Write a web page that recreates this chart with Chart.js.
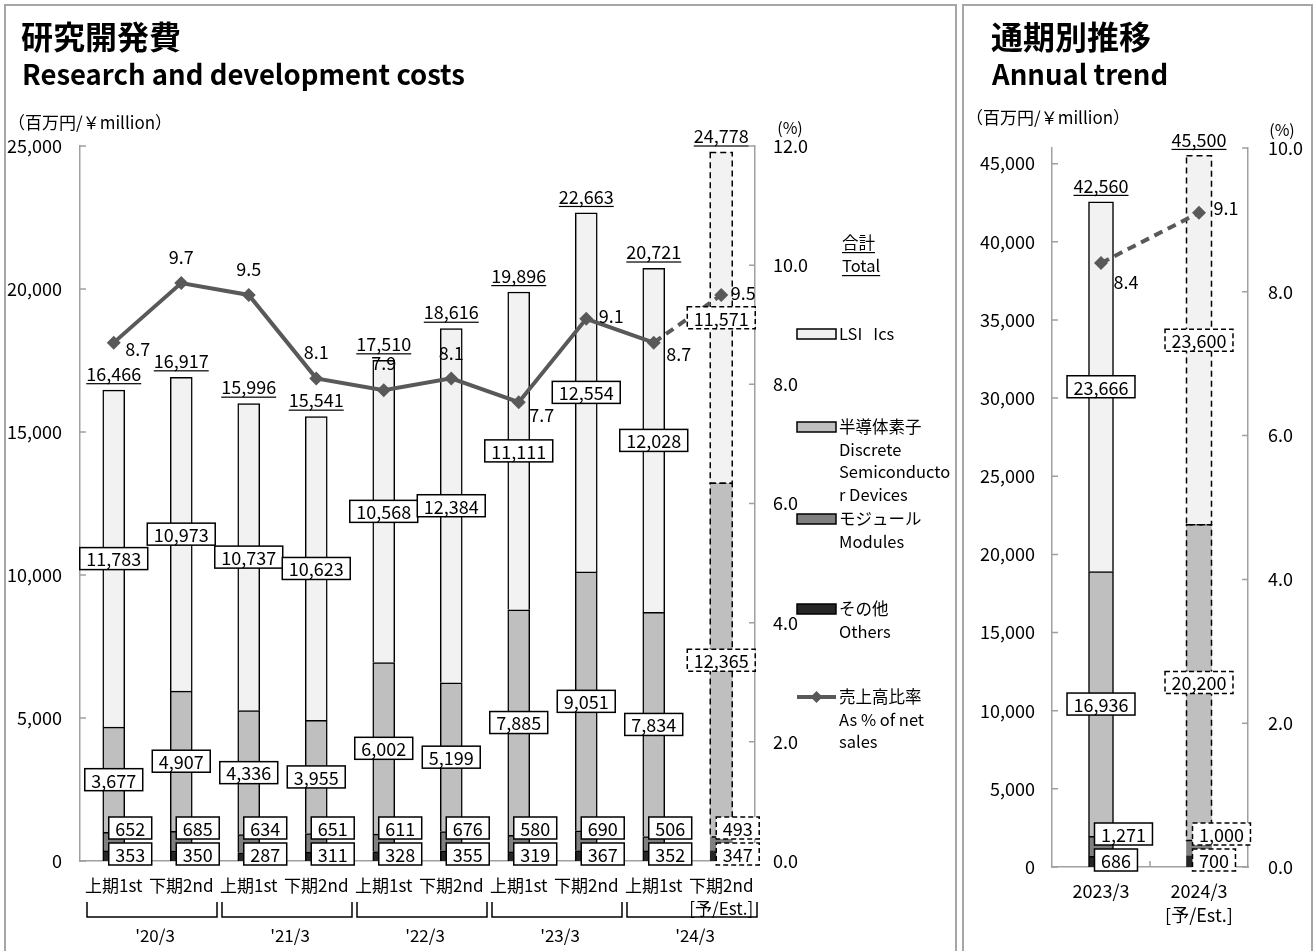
<!DOCTYPE html>
<html>
<head>
<meta charset="utf-8">
<script src="https://cdn.jsdelivr.net/npm/chart.js@4.4.1/dist/chart.umd.min.js"></script>
<style>
  body { margin: 0; width: 1316px; height: 951px; overflow: hidden; position: relative; background: #fff; }
  .panel { position: absolute; top: 4px; height: 990px; border: 2px solid #a6a6a6; box-sizing: border-box; }
  canvas { position: absolute; top: 0; }
</style>
</head>
<body>
<div class="panel" style="left:4px; width:953px;"></div>
<div class="panel" style="left:962px; width:351px;"></div>
<canvas id="halfChart" width="960" height="951" style="left:0"></canvas>
<canvas id="annualChart" width="356" height="951" style="left:960px"></canvas>
<script>
// 半期別データ (百万円)
var halfLabels = ["上期1st", "下期2nd", "上期1st", "下期2nd", "上期1st", "下期2nd", "上期1st", "下期2nd", "上期1st", ["下期2nd", "[予/Est.]"]];
var halfYears = ["'20/3", "'21/3", "'22/3", "'23/3", "'24/3"];
var halfLsi = [11783, 10973, 10737, 10623, 10568, 12384, 11111, 12554, 12028, 11571];
var halfDiscrete = [3677, 4907, 4336, 3955, 6002, 5199, 7885, 9051, 7834, 12365];
var halfModules = [652, 685, 634, 651, 611, 676, 580, 690, 506, 493];
var halfOthers = [353, 350, 287, 311, 328, 355, 319, 367, 352, 347];
var halfTotal = [16466, 16917, 15996, 15541, 17510, 18616, 19896, 22663, 20721, 24778];
var halfRatio = [8.7, 9.7, 9.5, 8.1, 7.9, 8.1, 7.7, 9.1, 8.7, 9.5];
var halfYTicks = [0, 5000, 10000, 15000, 20000, 25000];
var halfRatioTicks = [0, 2, 4, 6, 8, 10, 12];

// 通期データ
var annualLabels = ["2023/3", ["2024/3", "[予/Est.]"]];
var annualLsi = [23666, 23600];
var annualDiscrete = [16936, 20200];
var annualModules = [1271, 1000];
var annualOthers = [686, 700];
var annualTotal = [42560, 45500];
var annualRatio = [8.4, 9.1];
var annualYTicks = [0, 5000, 10000, 15000, 20000, 25000, 30000, 35000, 40000, 45000];
var annualRatioTicks = [0, 2, 4, 6, 8, 10];

var FONT = '"Noto Sans CJK JP", "Noto Sans", sans-serif';
var LINE = "#595959";
var AXIS = "#a0a0a0";
var C_LSI = "#f2f2f2", C_DISC = "#bfbfbf", C_MOD = "#7f7f7f", C_OTH = "#262626";

// ラベルの位置 (点からのずれ px)
var halfRatioOffsets = [[24, 7], [0, -26], [0, -26], [0, -26], [0, -27], [0, -25], [23, 13], [25, -3], [25, 12], [22, -2]];
var annualRatioOffsets = [[25, 19], [27, -5]];

Chart.defaults.font.family = FONT;
Chart.defaults.font.size = 18;
Chart.defaults.color = "#000";

function fmt(v) { return v.toLocaleString("en-US"); }

function boxLabel(ctx, text, x, y, dashed, alignLeft) {
  ctx.save();
  ctx.font = "18px " + FONT;
  var w = ctx.measureText(text).width + 13, h = 22;
  var left = alignLeft ? x : x - w / 2;
  ctx.fillStyle = "#fff";
  ctx.fillRect(left, y - h / 2, w, h);
  ctx.lineWidth = 1.5;
  ctx.strokeStyle = "#000";
  ctx.setLineDash(dashed ? [5, 3] : []);
  ctx.strokeRect(left, y - h / 2, w, h);
  ctx.setLineDash([]);
  ctx.fillStyle = "#000";
  ctx.textAlign = "center";
  ctx.textBaseline = "middle";
  ctx.fillText(text, left + w / 2, y + 1);
  ctx.restore();
}

function text(ctx, s, x, y, font, align, underline) {
  ctx.save();
  ctx.font = font;
  ctx.fillStyle = "#000";
  ctx.textAlign = align || "left";
  ctx.textBaseline = "middle";
  ctx.fillText(s, x, y);
  if (underline) {
    var w = ctx.measureText(s).width;
    var x0 = align === "center" ? x - w / 2 : x;
    ctx.fillRect(x0, y + 9, w, 1.2);
  }
  ctx.restore();
}

function barStyle(est) {
  return {
    borderColor: "#000",
    borderWidth: function (c) { return c.dataIndex === est ? 0 : 1.5; },
    borderSkipped: "start",
    order: 1
  };
}

// 共通の注記プラグイン
function annotate(cfg) {
  return {
    id: "annotate",
    beforeDatasetDraw: function (chart, args) {
      if (args.index !== 0) return;
      // 予想値の棒は破線で囲む
      var ctx = chart.ctx;
      ctx.save();
      ctx.setLineDash([6, 4]);
      ctx.lineWidth = 1.5;
      ctx.strokeStyle = "#000";
      [3, 4].forEach(function (di) {
        var el = chart.getDatasetMeta(di).data[cfg.est];
        ctx.strokeRect(el.x - el.width / 2, el.y, el.width, el.base - el.y);
      });
      ctx.restore();
    },
    afterDraw: function (chart) {
      var ctx = chart.ctx, area = chart.chartArea;
      var y = chart.scales.y, y1 = chart.scales.y1;
      var zero = y.getPixelForValue(0);

      // 内向きの目盛り
      ctx.save();
      ctx.strokeStyle = AXIS;
      ctx.lineWidth = 1.5;
      ctx.beginPath();
      y.ticks.forEach(function (t) {
        var p = y.getPixelForValue(t.value);
        ctx.moveTo(area.left, p); ctx.lineTo(area.left + 6, p);
      });
      y1.ticks.forEach(function (t) {
        var p = y1.getPixelForValue(t.value);
        ctx.moveTo(area.right - 6, p); ctx.lineTo(area.right, p);
      });
      var step = (area.right - area.left) / cfg.lsi.length;
      for (var k = 1; k < cfg.lsi.length; k++) {
        ctx.moveTo(area.left + k * step, zero); ctx.lineTo(area.left + k * step, zero - 6);
      }
      ctx.stroke();
      ctx.restore();

      for (var i = 0; i < cfg.lsi.length; i++) {
        var est = i === cfg.est;
        var lsiEl = chart.getDatasetMeta(4).data[i];
        var discEl = chart.getDatasetMeta(3).data[i];
        var barLeft = lsiEl.x - lsiEl.width / 2;
        boxLabel(ctx, fmt(cfg.lsi[i]), lsiEl.x, (lsiEl.y + lsiEl.base) / 2, est);
        boxLabel(ctx, fmt(cfg.disc[i]), discEl.x, (discEl.y + discEl.base) / 2, est);
        boxLabel(ctx, fmt(cfg.oth[i]), barLeft + 6, zero - 7, est, true);
        boxLabel(ctx, fmt(cfg.mod[i]), barLeft + 6, zero - 33, est, true);
        text(ctx, fmt(cfg.total[i]), lsiEl.x, lsiEl.y - 16, "18px " + FONT, "center", true);
      }

      var pts = chart.getDatasetMeta(0).data;
      pts.forEach(function (p, i) {
        var off = cfg.ratioOffsets[i];
        text(ctx, cfg.ratio[i].toFixed(1), p.x + off[0], p.y + off[1], "18px " + FONT, "center");
      });

      if (cfg.extra) cfg.extra(chart, ctx, area, zero);
    }
  };
}

function scalesFor(yMax, yTicks, y1Max, y1Ticks, sizes) {
  return {
    x: {
      stacked: true,
      grid: { display: false, drawTicks: false },
      border: { color: AXIS, width: 1.5 },
      ticks: { autoSkip: false, maxRotation: 0, padding: sizes.xPad, font: { size: sizes.xFont, lineHeight: 1.35 } },
      afterFit: function (s) { s.height = sizes.xHeight; }
    },
    y: {
      stacked: true, min: 0, max: yMax,
      grid: { display: false, drawTicks: false },
      border: { color: AXIS, width: 1.5 },
      ticks: { padding: sizes.yPad },
      afterBuildTicks: function (s) { s.ticks = yTicks.map(function (v) { return { value: v }; }); },
      afterFit: function (s) { s.width = sizes.yWidth; }
    },
    y1: {
      position: "right", min: 0, max: y1Max,
      grid: { display: false, drawTicks: false },
      border: { color: AXIS, width: 1.5 },
      ticks: { padding: sizes.y1Pad, callback: function (v) { return v.toFixed(1); } },
      afterBuildTicks: function (s) { s.ticks = y1Ticks.map(function (v) { return { value: v }; }); },
      afterFit: function (s) { s.width = sizes.y1Width; }
    }
  };
}

// 半期別推移
var HALF_EST = 9;
new Chart(document.getElementById("halfChart"), {
  type: "bar",
  data: {
    labels: halfLabels,
    datasets: [
      {
        type: "line", data: halfRatio, yAxisID: "y1", order: 0,
        borderColor: LINE, backgroundColor: LINE, borderWidth: 4,
        pointStyle: "rectRot", pointRadius: 7, pointBackgroundColor: LINE, pointBorderWidth: 0,
        segment: { borderDash: function (c) { return c.p1DataIndex === HALF_EST ? [9, 6] : undefined; } }
      },
      Object.assign({ data: halfOthers, backgroundColor: C_OTH, barThickness: 22 }, barStyle(HALF_EST)),
      Object.assign({ data: halfModules, backgroundColor: C_MOD, barThickness: 22 }, barStyle(HALF_EST)),
      Object.assign({ data: halfDiscrete, backgroundColor: C_DISC, barThickness: 22 }, barStyle(HALF_EST)),
      Object.assign({ data: halfLsi, backgroundColor: C_LSI, barThickness: 22 }, barStyle(HALF_EST))
    ]
  },
  options: {
    responsive: false, animation: false, devicePixelRatio: 1,
    layout: { padding: { top: 146, left: 0, right: 0, bottom: 0 } },
    plugins: { legend: { display: false }, tooltip: { enabled: false } },
    scales: scalesFor(25000, halfYTicks, 12, halfRatioTicks, { xPad: 13, xFont: 17, xHeight: 90, yPad: 18, yWidth: 80, y1Pad: 18, y1Width: 205 })
  },
  plugins: [annotate({
    est: HALF_EST, lsi: halfLsi, disc: halfDiscrete, mod: halfModules, oth: halfOthers,
    total: halfTotal, ratio: halfRatio, ratioOffsets: halfRatioOffsets,
    extra: function (chart, ctx, area, zero) {
      // タイトル
      text(ctx, "研究開発費", 21, 37, "bold 32px " + FONT);
      text(ctx, "Research and development costs", 22, 75, "bold 27.5px " + FONT);
      text(ctx, "（百万円/￥million）", 8, 123, "17px " + FONT);
      text(ctx, "(%)", 790, 128, "16px " + FONT, "center");

      // 年度の括弧
      var step = (area.right - area.left) / halfLsi.length;
      ctx.save();
      ctx.strokeStyle = "#000";
      ctx.lineWidth = 1.5;
      halfYears.forEach(function (yr, g) {
        var l = area.left + g * 2 * step + 7, r = area.left + (g + 1) * 2 * step + 2;
        ctx.beginPath();
        ctx.moveTo(l, zero + 41); ctx.lineTo(l, zero + 56); ctx.lineTo(r, zero + 56); ctx.lineTo(r, zero + 41);
        ctx.stroke();
        text(ctx, yr, (l + r) / 2 + 3, zero + 75, "17px " + FONT, "center");
      });
      ctx.restore();

      // 凡例
      var lx = area.right + 42, tx = area.right + 83, lh = 22.5;
      var f = "16.5px " + FONT;
      text(ctx, "合計", tx + 4, 243, f, "left", true);
      text(ctx, "Total", tx + 4, 266, f, "left", true);
      var items = [
        { color: C_LSI, y: 334, lines: ["LSI   Ics"] },
        { color: C_DISC, y: 427, lines: ["半導体素子", "Discrete", "Semiconducto", "r Devices"] },
        { color: C_MOD, y: 519, lines: ["モジュール", "Modules"] },
        { color: C_OTH, y: 609, lines: ["その他", "Others"] },
        { color: null, y: 697, lines: ["売上高比率", "As % of net", "sales"] }
      ];
      items.forEach(function (it) {
        ctx.save();
        if (it.color) {
          ctx.fillStyle = it.color;
          ctx.fillRect(lx, it.y - 5, 39, 10);
          ctx.strokeStyle = "#000";
          ctx.lineWidth = 1.5;
          ctx.strokeRect(lx, it.y - 5, 39, 10);
        } else {
          ctx.strokeStyle = LINE;
          ctx.lineWidth = 4;
          ctx.beginPath(); ctx.moveTo(lx, it.y); ctx.lineTo(lx + 39, it.y); ctx.stroke();
          ctx.fillStyle = LINE;
          ctx.beginPath();
          ctx.moveTo(lx + 19.5, it.y - 6); ctx.lineTo(lx + 25.5, it.y); ctx.lineTo(lx + 19.5, it.y + 6); ctx.lineTo(lx + 13.5, it.y);
          ctx.fill();
        }
        ctx.restore();
        it.lines.forEach(function (s, k) { text(ctx, s, tx + 1, it.y + k * lh, f); });
      });
    }
  })]
});

// 通期別推移
var ANNUAL_EST = 1;
new Chart(document.getElementById("annualChart"), {
  type: "bar",
  data: {
    labels: annualLabels,
    datasets: [
      {
        type: "line", data: annualRatio, yAxisID: "y1", order: 0,
        borderColor: LINE, backgroundColor: LINE, borderWidth: 4, borderDash: [9, 6],
        pointStyle: "rectRot", pointRadius: 7, pointBackgroundColor: LINE, pointBorderWidth: 0
      },
      Object.assign({ data: annualOthers, backgroundColor: C_OTH, barThickness: 25 }, barStyle(ANNUAL_EST)),
      Object.assign({ data: annualModules, backgroundColor: C_MOD, barThickness: 25 }, barStyle(ANNUAL_EST)),
      Object.assign({ data: annualDiscrete, backgroundColor: C_DISC, barThickness: 25 }, barStyle(ANNUAL_EST)),
      Object.assign({ data: annualLsi, backgroundColor: C_LSI, barThickness: 25 }, barStyle(ANNUAL_EST))
    ]
  },
  options: {
    responsive: false, animation: false, devicePixelRatio: 1,
    layout: { padding: { top: 148, left: 0, right: 0, bottom: 0 } },
    plugins: { legend: { display: false }, tooltip: { enabled: false } },
    scales: scalesFor(46000, annualYTicks, 10, annualRatioTicks, { xPad: 12, xFont: 18, xHeight: 84, yPad: 17, yWidth: 92, y1Pad: 20, y1Width: 68 })
  },
  plugins: [annotate({
    est: ANNUAL_EST, lsi: annualLsi, disc: annualDiscrete, mod: annualModules, oth: annualOthers,
    total: annualTotal, ratio: annualRatio, ratioOffsets: annualRatioOffsets,
    extra: function (chart, ctx) {
      text(ctx, "通期別推移", 31, 37, "bold 32px " + FONT);
      text(ctx, "Annual trend", 32, 75, "bold 27.5px " + FONT);
      text(ctx, "（百万円/￥million）", 6, 118, "17px " + FONT);
      text(ctx, "(%)", 322, 130, "16px " + FONT, "center");
    }
  })]
});
</script>
</body>
</html>
